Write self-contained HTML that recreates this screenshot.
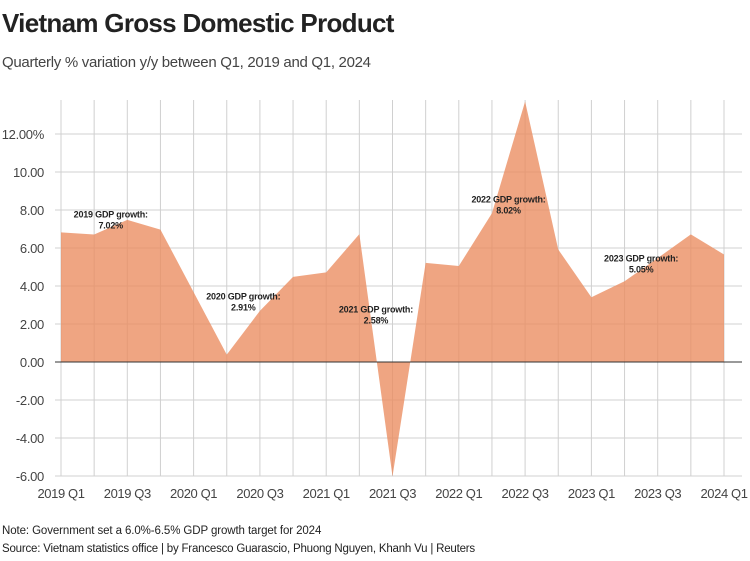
<!DOCTYPE html>
<html><head><meta charset="utf-8"><style>
body{margin:0;background:#fff;font-family:"Liberation Sans",sans-serif;}
#wrap{position:relative;width:750px;height:561px;overflow:hidden;}
</style></head><body>
<div id="wrap">
<div style="position:absolute;left:2px;top:8px;font-size:26px;font-weight:bold;color:#222;letter-spacing:-0.7px">Vietnam Gross Domestic Product</div>
<div style="position:absolute;left:2px;top:54px;font-size:15px;color:#444;letter-spacing:-0.3px">Quarterly % variation y/y between Q1, 2019 and Q1, 2024</div>
<svg id="chart" width="750" height="561" style="position:absolute;left:0;top:0"></svg>
<div style="position:absolute;left:2px;top:525px;font-size:11.5px;color:#222;letter-spacing:-0.1px">Note: Government set a 6.0%-6.5% GDP growth target for 2024</div>
<div style="position:absolute;left:2px;top:543px;font-size:11.5px;color:#222;letter-spacing:-0.2px">Source: Vietnam statistics office | by Francesco Guarascio, Phuong Nguyen, Khanh Vu | Reuters</div>
</div>
<script>
const quarters=["2019 Q1","2019 Q2","2019 Q3","2019 Q4","2020 Q1","2020 Q2","2020 Q3","2020 Q4","2021 Q1","2021 Q2","2021 Q3","2021 Q4","2022 Q1","2022 Q2","2022 Q3","2022 Q4","2023 Q1","2023 Q2","2023 Q3","2023 Q4","2024 Q1"];
const gdp=[6.82,6.71,7.48,6.97,3.68,0.39,2.69,4.48,4.72,6.73,-6.02,5.22,5.05,7.83,13.71,5.92,3.41,4.25,5.47,6.72,5.66];
const yTicks=[-6,-4,-2,0,2,4,6,8,10,12];
const yTickLabels=["-6.00","-4.00","-2.00","0.00","2.00","4.00","6.00","8.00","10.00","12.00%"];
const annLabels=["2019 GDP growth:|7.02%","2020 GDP growth:|2.91%","2021 GDP growth:|2.58%","2022 GDP growth:|8.02%","2023 GDP growth:|5.05%"];
const annIndex=[1.5,5.5,9.5,13.5,17.5];
const annValue=[7.6,3.3,2.6,8.4,5.3];

const NS="http://www.w3.org/2000/svg",svg=document.getElementById('chart');
const x=i=>61+i*(724-61)/20;
const y=v=>362-v*19;
function mk(t,a){const e=document.createElementNS(NS,t);for(const k in a)e.setAttribute(k,a[k]);svg.appendChild(e);return e;}
quarters.forEach((q,i)=>{const l=mk('line',{x1:x(i),x2:x(i),y1:100,y2:476,stroke:'#d0d0d0','stroke-width':1});


if(i%2==0){const t=mk('text',{x:x(i),y:498,'text-anchor':'middle','font-size':13,fill:'#444','letter-spacing':-0.4});t.textContent=q;

}});
yTicks.forEach((v,i)=>{const l=mk('line',{x1:55,x2:742,y1:y(v),y2:y(v),stroke:v==0?'#333':'#d0d0d0','stroke-width':1});


const t=mk('text',{x:44,y:y(v)+5,'text-anchor':'end','font-size':13,fill:'#444','letter-spacing':-0.3});t.textContent=yTickLabels[i];

});
let d='M'+x(0)+','+y(0);gdp.forEach((v,i)=>d+=' L'+x(i)+','+y(v));d+=' L'+x(gdp.length-1)+','+y(0)+'Z';
const a=mk('path',{d:d,fill:'#eb8c5f','fill-opacity':0.78});


mk('line',{x1:55,x2:742,y1:y(0),y2:y(0),stroke:'#333','stroke-width':1});
annLabels.forEach((s,i)=>{const p=s.split('|');const t=mk('text',{x:x(annIndex[i]),y:y(annValue[i]),'text-anchor':'middle','font-size':9,'font-weight':'bold',fill:'#222','letter-spacing':-0.2});


p.forEach((q,j)=>{const ts=document.createElementNS(NS,'tspan');ts.setAttribute('x',x(annIndex[i]));ts.setAttribute('dy',j?11:0);ts.textContent=q;t.appendChild(ts);});});
</script>
</body></html>
